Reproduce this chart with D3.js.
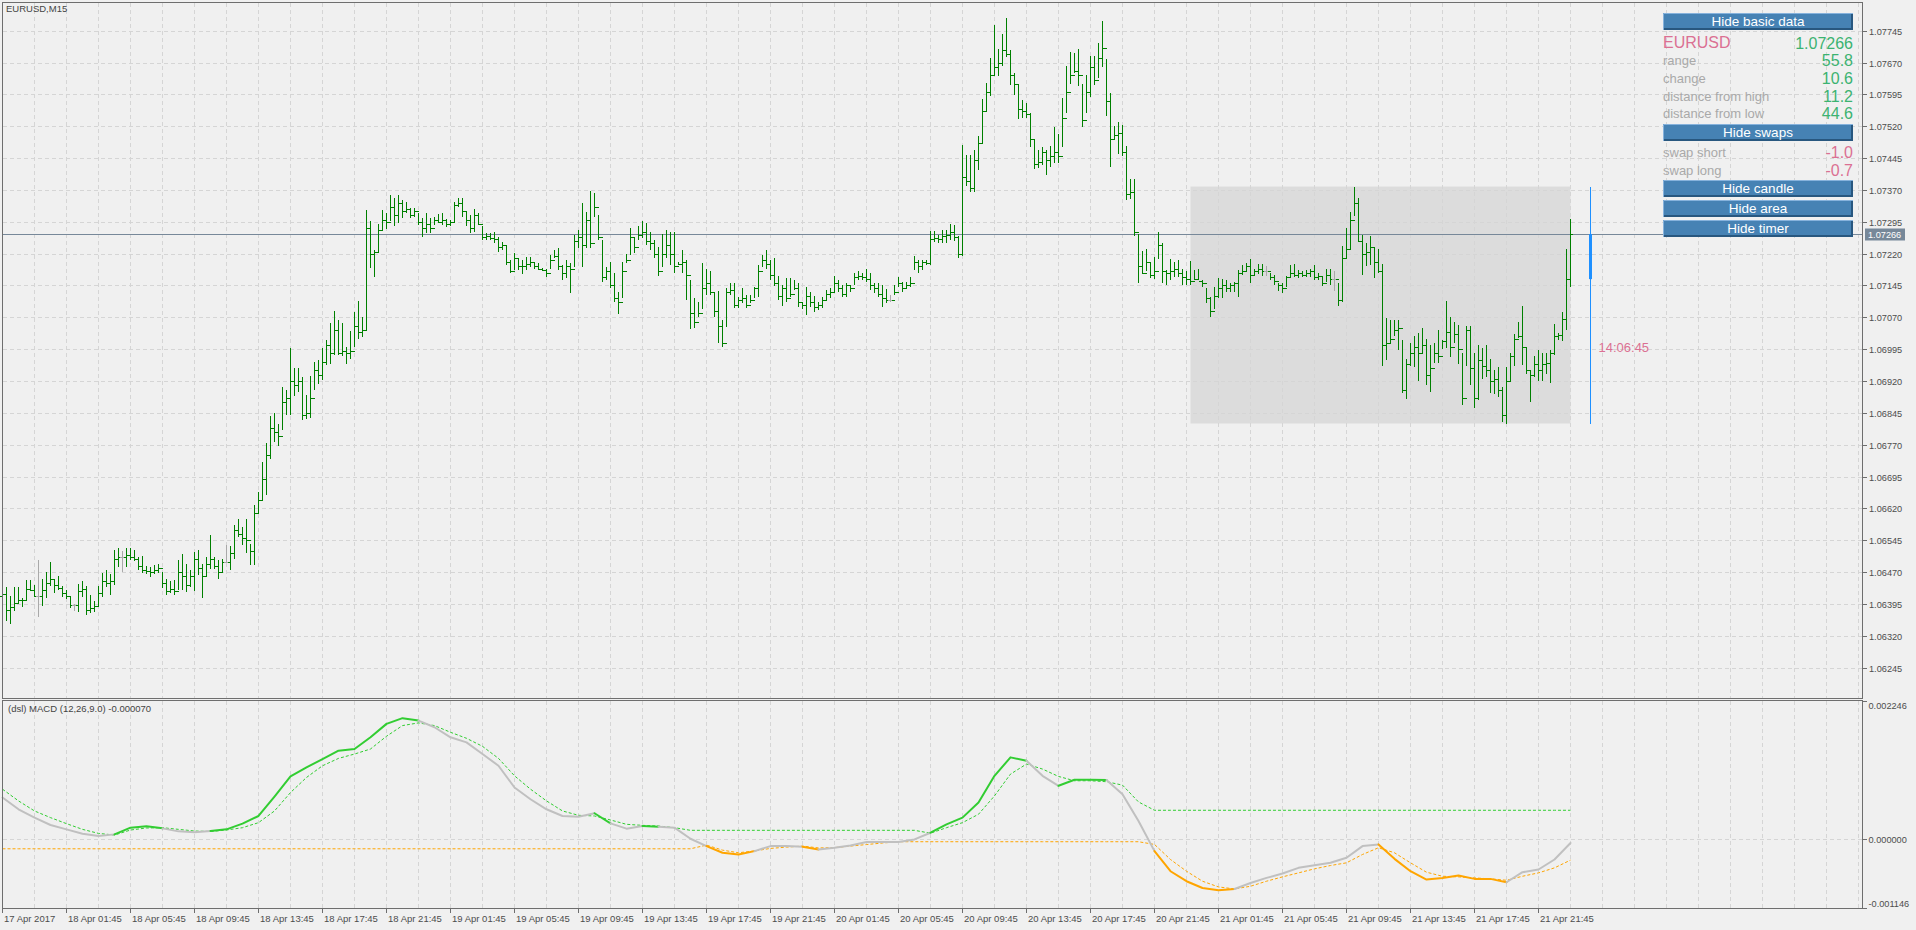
<!DOCTYPE html>
<html>
<head>
<meta charset="utf-8">
<title>EURUSD,M15</title>
<script src="https://cdn.jsdelivr.net/npm/d3@7"></script>
<style>
  body { margin: 0; background: #f0f0f0; }
  svg { display: block; font-family: "Liberation Sans", Arial, sans-serif; }
</style>
</head>
<body>
<svg id="chart" width="1916" height="930"></svg>
<script>
// ---- data ----
const symbol = "EURUSD";
const timeframe = "M15";
const firstOpen = 1.06415;

const barHigh = [
  1.06424,1.06435,1.06413,1.06434,1.06434,1.06410,1.06451,1.06451,1.06439,1.06498,
  1.06455,1.06471,1.06493,1.06453,1.06461,1.06437,1.06427,1.06413,1.06396,1.06443,
  1.06449,1.06437,1.06416,1.06402,1.06437,1.06467,1.06476,1.06465,1.06522,1.06526,
  1.06520,1.06526,1.06528,1.06523,1.06506,1.06508,1.06484,1.06483,1.06486,1.06489,
  1.06471,1.06453,1.06449,1.06451,1.06498,1.06512,1.06490,1.06475,1.06518,1.06522,
  1.06490,1.06506,1.06557,1.06506,1.06498,1.06502,1.06533,1.06531,1.06581,1.06596,
  1.06577,1.06594,1.06537,1.06628,1.06659,1.06730,1.06773,1.06838,1.06844,1.06820,
  1.06907,1.06899,1.06997,1.06950,1.06950,1.06930,1.06887,1.06932,1.06966,1.06969,
  1.06997,1.07017,1.07056,1.07085,1.07064,1.07057,1.07001,1.07038,1.07082,1.07108,
  1.07071,1.07323,1.07297,1.07228,1.07290,1.07323,1.07316,1.07358,1.07350,1.07358,
  1.07346,1.07342,1.07328,1.07328,1.07315,1.07303,1.07315,1.07303,1.07307,1.07313,
  1.07315,1.07301,1.07299,1.07342,1.07350,1.07350,1.07319,1.07311,1.07324,1.07315,
  1.07284,1.07269,1.07268,1.07272,1.07260,1.07248,1.07238,1.07205,1.07221,1.07207,
  1.07205,1.07211,1.07211,1.07201,1.07197,1.07187,1.07185,1.07217,1.07229,1.07234,
  1.07193,1.07205,1.07197,1.07264,1.07276,1.07339,1.07317,1.07368,1.07362,1.07311,
  1.07252,1.07189,1.07201,1.07174,1.07130,1.07201,1.07219,1.07281,1.07256,1.07284,
  1.07297,1.07291,1.07272,1.07252,1.07236,1.07266,1.07276,1.07272,1.07272,1.07201,
  1.07229,1.07205,1.07158,1.07115,1.07105,1.07199,1.07185,1.07178,1.07130,1.07133,
  1.07064,1.07138,1.07150,1.07150,1.07119,1.07138,1.07123,1.07123,1.07141,1.07193,
  1.07217,1.07229,1.07205,1.07209,1.07167,1.07146,1.07162,1.07163,1.07158,1.07150,
  1.07107,1.07141,1.07130,1.07120,1.07107,1.07119,1.07134,1.07138,1.07167,1.07158,
  1.07146,1.07150,1.07146,1.07174,1.07178,1.07174,1.07185,1.07174,1.07150,1.07150,
  1.07146,1.07136,1.07123,1.07146,1.07164,1.07154,1.07154,1.07164,1.07214,1.07205,
  1.07205,1.07205,1.07273,1.07273,1.07264,1.07276,1.07276,1.07290,1.07288,1.07262,
  1.07476,1.07453,1.07453,1.07464,1.07497,1.07584,1.07623,1.07680,1.07759,1.07701,
  1.07737,1.07776,1.07700,1.07645,1.07620,1.07582,1.07574,1.07551,1.07488,1.07463,
  1.07472,1.07464,1.07474,1.07519,1.07502,1.07586,1.07661,1.07694,1.07692,1.07701,
  1.07620,1.07641,1.07686,1.07686,1.07716,1.07767,1.07678,1.07598,1.07521,1.07529,
  1.07523,1.07474,1.07395,1.07395,1.07267,1.07227,1.07232,1.07201,1.07213,1.07272,
  1.07245,1.07182,1.07208,1.07200,1.07205,1.07185,1.07180,1.07203,1.07181,1.07183,
  1.07158,1.07138,1.07119,1.07141,1.07162,1.07160,1.07158,1.07150,1.07154,1.07181,
  1.07193,1.07199,1.07207,1.07185,1.07196,1.07196,1.07191,1.07174,1.07170,1.07150,
  1.07150,1.07167,1.07193,1.07196,1.07181,1.07178,1.07181,1.07183,1.07193,1.07175,
  1.07166,1.07183,1.07183,1.07178,1.07150,1.07238,1.07280,1.07319,1.07378,1.07350,
  1.07264,1.07244,1.07262,1.07236,1.07231,1.07195,1.07068,1.07064,1.07064,1.07064,
  1.07017,1.06971,1.07009,1.07027,1.07032,1.07044,1.07018,1.07005,1.07010,1.07040,
  1.07017,1.07108,1.07072,1.07060,1.07052,1.06987,1.07050,1.07050,1.06985,1.07005,
  1.06997,1.07005,1.06971,1.06946,1.06954,1.06905,1.06954,1.06985,1.07031,1.07060,
  1.07097,1.06997,1.06946,1.06979,1.06993,1.06985,1.06987,1.06993,1.07054,1.07032,
  1.07083,1.07230,1.07301
];

const barLow = [
  1.06402,1.06355,1.06349,1.06379,1.06395,1.06387,1.06402,1.06426,1.06412,1.06365,
  1.06390,1.06410,1.06437,1.06420,1.06427,1.06412,1.06407,1.06386,1.06379,1.06377,
  1.06412,1.06369,1.06374,1.06376,1.06388,1.06412,1.06435,1.06416,1.06439,1.06483,
  1.06471,1.06483,1.06498,1.06497,1.06476,1.06468,1.06465,1.06459,1.06465,1.06467,
  1.06432,1.06416,1.06421,1.06416,1.06429,1.06428,1.06424,1.06434,1.06426,1.06463,
  1.06410,1.06460,1.06478,1.06478,1.06455,1.06467,1.06492,1.06475,1.06502,1.06553,
  1.06533,1.06514,1.06486,1.06486,1.06610,1.06640,1.06651,1.06737,1.06777,1.06768,
  1.06805,1.06840,1.06840,1.06885,1.06895,1.06828,1.06830,1.06834,1.06899,1.06913,
  1.06922,1.06958,1.06960,1.06981,1.06981,1.06979,1.06960,1.06973,1.07001,1.07020,
  1.07024,1.07040,1.07187,1.07166,1.07224,1.07276,1.07279,1.07298,1.07285,1.07293,
  1.07303,1.07315,1.07303,1.07307,1.07287,1.07260,1.07268,1.07269,1.07287,1.07291,
  1.07287,1.07282,1.07284,1.07295,1.07331,1.07307,1.07284,1.07268,1.07272,1.07287,
  1.07252,1.07251,1.07252,1.07244,1.07225,1.07229,1.07193,1.07174,1.07182,1.07182,
  1.07172,1.07182,1.07189,1.07183,1.07182,1.07178,1.07166,1.07185,1.07209,1.07182,
  1.07158,1.07162,1.07127,1.07189,1.07233,1.07189,1.07233,1.07233,1.07307,1.07252,
  1.07154,1.07158,1.07138,1.07107,1.07078,1.07115,1.07197,1.07217,1.07221,1.07252,
  1.07256,1.07240,1.07229,1.07209,1.07167,1.07189,1.07209,1.07193,1.07174,1.07193,
  1.07174,1.07111,1.07042,1.07044,1.07072,1.07089,1.07123,1.07123,1.07072,1.07010,
  1.07000,1.07048,1.07123,1.07091,1.07091,1.07103,1.07091,1.07103,1.07115,1.07119,
  1.07189,1.07185,1.07158,1.07144,1.07111,1.07097,1.07107,1.07119,1.07134,1.07095,
  1.07089,1.07076,1.07095,1.07083,1.07087,1.07093,1.07111,1.07115,1.07127,1.07130,
  1.07119,1.07119,1.07130,1.07146,1.07158,1.07158,1.07154,1.07134,1.07128,1.07119,
  1.07095,1.07103,1.07107,1.07123,1.07142,1.07130,1.07138,1.07142,1.07182,1.07175,
  1.07182,1.07193,1.07193,1.07248,1.07246,1.07245,1.07246,1.07252,1.07250,1.07209,
  1.07215,1.07380,1.07366,1.07366,1.07416,1.07480,1.07554,1.07591,1.07639,1.07639,
  1.07661,1.07684,1.07617,1.07594,1.07537,1.07539,1.07539,1.07472,1.07420,1.07421,
  1.07429,1.07405,1.07425,1.07434,1.07433,1.07472,1.07552,1.07620,1.07645,1.07615,
  1.07518,1.07551,1.07588,1.07617,1.07633,1.07659,1.07543,1.07425,1.07488,1.07455,
  1.07449,1.07347,1.07348,1.07262,1.07150,1.07172,1.07178,1.07162,1.07160,1.07207,
  1.07152,1.07146,1.07158,1.07164,1.07164,1.07146,1.07146,1.07146,1.07158,1.07158,
  1.07142,1.07103,1.07070,1.07089,1.07115,1.07115,1.07130,1.07130,1.07130,1.07119,
  1.07170,1.07178,1.07150,1.07170,1.07172,1.07167,1.07167,1.07158,1.07146,1.07133,
  1.07128,1.07141,1.07162,1.07164,1.07162,1.07164,1.07164,1.07164,1.07158,1.07158,
  1.07144,1.07154,1.07146,1.07133,1.07097,1.07105,1.07207,1.07231,1.07309,1.07248,
  1.07170,1.07191,1.07193,1.07162,1.07175,1.06955,1.06970,1.07010,1.07025,1.06993,
  1.06891,1.06877,1.06955,1.06954,1.06919,1.06985,1.06911,1.06895,1.06963,1.06963,
  1.06995,1.06997,1.06977,1.07009,1.06960,1.06864,1.06955,1.06911,1.06857,1.06875,
  1.06926,1.06929,1.06891,1.06890,1.06883,1.06824,1.06820,1.06919,1.06955,1.07021,
  1.06958,1.06937,1.06871,1.06930,1.06919,1.06919,1.06937,1.06915,1.06981,1.07017,
  1.07015,1.07040,1.07141
];

const barClose = [
  1.06418,1.06380,1.06388,1.06398,1.06405,1.06404,1.06430,1.06428,1.06414,1.06414,
  1.06428,1.06445,1.06455,1.06440,1.06432,1.06420,1.06415,1.06392,1.06392,1.06425,
  1.06430,1.06380,1.06385,1.06390,1.06420,1.06450,1.06445,1.06450,1.06500,1.06505,
  1.06505,1.06510,1.06505,1.06500,1.06485,1.06475,1.06472,1.06470,1.06475,1.06480,
  1.06445,1.06425,1.06430,1.06425,1.06470,1.06460,1.06440,1.06460,1.06500,1.06480,
  1.06460,1.06490,1.06500,1.06485,1.06470,1.06495,1.06495,1.06515,1.06570,1.06560,
  1.06550,1.06545,1.06520,1.06610,1.06640,1.06690,1.06745,1.06810,1.06800,1.06790,
  1.06870,1.06880,1.06920,1.06910,1.06920,1.06840,1.06845,1.06880,1.06945,1.06935,
  1.06965,1.07005,1.06985,1.07040,1.06985,1.06990,1.06985,1.06990,1.07050,1.07035,
  1.07040,1.07280,1.07220,1.07225,1.07275,1.07300,1.07295,1.07330,1.07310,1.07340,
  1.07320,1.07325,1.07310,1.07320,1.07295,1.07280,1.07290,1.07280,1.07300,1.07295,
  1.07300,1.07290,1.07295,1.07335,1.07340,1.07320,1.07300,1.07280,1.07310,1.07290,
  1.07260,1.07262,1.07258,1.07255,1.07235,1.07240,1.07200,1.07180,1.07210,1.07190,
  1.07192,1.07195,1.07200,1.07190,1.07185,1.07182,1.07175,1.07205,1.07215,1.07190,
  1.07175,1.07190,1.07185,1.07250,1.07260,1.07240,1.07300,1.07245,1.07330,1.07260,
  1.07165,1.07180,1.07145,1.07115,1.07105,1.07180,1.07205,1.07260,1.07235,1.07265,
  1.07270,1.07250,1.07245,1.07220,1.07180,1.07220,1.07240,1.07220,1.07190,1.07195,
  1.07200,1.07170,1.07080,1.07060,1.07080,1.07140,1.07150,1.07130,1.07085,1.07050,
  1.07010,1.07130,1.07135,1.07100,1.07110,1.07115,1.07100,1.07110,1.07140,1.07180,
  1.07205,1.07195,1.07170,1.07150,1.07120,1.07140,1.07115,1.07125,1.07140,1.07105,
  1.07100,1.07120,1.07105,1.07095,1.07100,1.07110,1.07125,1.07130,1.07150,1.07140,
  1.07125,1.07145,1.07140,1.07165,1.07168,1.07165,1.07160,1.07145,1.07140,1.07125,
  1.07115,1.07110,1.07110,1.07130,1.07150,1.07140,1.07145,1.07150,1.07200,1.07190,
  1.07200,1.07198,1.07255,1.07258,1.07255,1.07262,1.07265,1.07270,1.07260,1.07220,
  1.07400,1.07390,1.07375,1.07440,1.07480,1.07555,1.07600,1.07640,1.07660,1.07670,
  1.07700,1.07690,1.07640,1.07620,1.07560,1.07555,1.07550,1.07490,1.07430,1.07435,
  1.07460,1.07440,1.07450,1.07460,1.07450,1.07540,1.07600,1.07640,1.07650,1.07640,
  1.07535,1.07600,1.07660,1.07630,1.07680,1.07705,1.07580,1.07490,1.07500,1.07505,
  1.07460,1.07360,1.07365,1.07270,1.07190,1.07175,1.07200,1.07170,1.07180,1.07240,
  1.07180,1.07175,1.07180,1.07185,1.07175,1.07165,1.07160,1.07155,1.07160,1.07155,
  1.07150,1.07115,1.07085,1.07120,1.07140,1.07145,1.07140,1.07145,1.07150,1.07175,
  1.07180,1.07190,1.07170,1.07180,1.07185,1.07180,1.07180,1.07165,1.07155,1.07145,
  1.07140,1.07165,1.07175,1.07170,1.07175,1.07170,1.07175,1.07178,1.07165,1.07168,
  1.07150,1.07170,1.07160,1.07160,1.07110,1.07210,1.07230,1.07300,1.07340,1.07250,
  1.07220,1.07225,1.07235,1.07200,1.07180,1.07005,1.07010,1.07020,1.07040,1.07045,
  1.06900,1.06960,1.06985,1.07000,1.06985,1.07005,1.06935,1.06950,1.06985,1.06980,
  1.07015,1.07035,1.07000,1.07030,1.06995,1.06880,1.07040,1.06950,1.06880,1.06970,
  1.06955,1.06945,1.06920,1.06925,1.06900,1.06840,1.06920,1.06980,1.07020,1.07025,
  1.07000,1.06945,1.06935,1.06960,1.06945,1.06960,1.06962,1.06985,1.07025,1.07028,
  1.07065,1.07160,1.07266
];

// MACD read every 4th bar
const macdStep = 4;
const macdMain = [
  0.000672,0.000480,0.000344,0.000224,0.000153,0.000082,0.000044,0.000071,0.000180,0.000202,
  0.000169,0.000120,0.000104,0.000126,0.000153,0.000246,0.000371,0.000688,0.001016,0.001163,
  0.001299,0.001436,0.001463,0.001654,0.001873,0.001966,0.001927,0.001818,0.001654,0.001572,
  0.001381,0.001190,0.000835,0.000644,0.000480,0.000371,0.000360,0.000415,0.000251,0.000164,
  0.000207,0.000197,0.000180,0.000000,-0.000120,-0.000229,-0.000257,-0.000202,-0.000120,-0.000120,
  -0.000131,-0.000175,-0.000147,-0.000109,-0.000055,-0.000055,-0.000055,-0.000011,0.000098,0.000235,
  0.000344,0.000590,0.001026,0.001327,0.001272,0.001026,0.000863,0.000961,0.000961,0.000956,
  0.000726,0.000289,-0.000202,-0.000530,-0.000693,-0.000803,-0.000841,-0.000819,-0.000721,-0.000639,
  -0.000568,-0.000475,-0.000431,-0.000393,-0.000311,-0.000120,-0.000093,-0.000328,-0.000530,-0.000666,
  -0.000639,-0.000601,-0.000655,-0.000655,-0.000710,-0.000546,-0.000502,-0.000339,-0.000070
];
const macdLevelUp = [
  0.000808,0.000617,0.000453,0.000344,0.000246,0.000153,0.000087,0.000060,0.000142,0.000175,
  0.000180,0.000153,0.000126,0.000118,0.000142,0.000180,0.000262,0.000453,0.000753,0.000999,
  0.001190,0.001310,0.001381,0.001463,0.001671,0.001845,0.001889,0.001845,0.001736,0.001638,
  0.001507,0.001310,0.001026,0.000808,0.000617,0.000453,0.000382,0.000371,0.000306,0.000235,
  0.000218,0.000207,0.000180,0.000137,0.000137,0.000137,0.000137,0.000137,0.000137,0.000137,
  0.000137,0.000137,0.000137,0.000137,0.000137,0.000137,0.000137,0.000137,0.000090,0.000180,
  0.000262,0.000399,0.000699,0.001054,0.001218,0.001136,0.001016,0.000945,0.000945,0.000930,
  0.000874,0.000600,0.000464,0.000464,0.000464,0.000464,0.000464,0.000464,0.000464,0.000464,
  0.000464,0.000464,0.000464,0.000464,0.000464,0.000464,0.000464,0.000464,0.000464,0.000464,
  0.000464,0.000464,0.000464,0.000464,0.000464,0.000464,0.000464,0.000464,0.000464
];
const macdLevelDown = [
  -0.000164,-0.000164,-0.000164,-0.000164,-0.000164,-0.000164,-0.000164,-0.000164,-0.000164,-0.000164,
  -0.000164,-0.000164,-0.000164,-0.000164,-0.000164,-0.000164,-0.000164,-0.000164,-0.000164,-0.000164,
  -0.000164,-0.000164,-0.000164,-0.000164,-0.000164,-0.000164,-0.000164,-0.000164,-0.000164,-0.000164,
  -0.000164,-0.000164,-0.000164,-0.000164,-0.000164,-0.000164,-0.000164,-0.000164,-0.000164,-0.000164,
  -0.000164,-0.000164,-0.000164,-0.000164,-0.000104,-0.000186,-0.000229,-0.000200,-0.000158,-0.000137,
  -0.000120,-0.000150,-0.000145,-0.000120,-0.000095,-0.000070,-0.000049,-0.000049,-0.000049,-0.000049,
  -0.000049,-0.000049,-0.000049,-0.000049,-0.000049,-0.000049,-0.000049,-0.000049,-0.000049,-0.000049,
  -0.000049,-0.000049,-0.000093,-0.000339,-0.000530,-0.000693,-0.000786,-0.000819,-0.000775,-0.000693,
  -0.000622,-0.000557,-0.000491,-0.000437,-0.000393,-0.000257,-0.000147,-0.000229,-0.000393,-0.000546,
  -0.000612,-0.000622,-0.000639,-0.000655,-0.000677,-0.000612,-0.000557,-0.000475,-0.000349
];
// 1 = above up level, -1 = below down level, 0 = between
const macdState = [
  0,0,0,0,0,0,0,1,1,1,
  0,0,0,1,1,1,1,1,1,1,
  1,1,1,1,1,1,0,0,0,0,
  0,0,0,0,0,0,0,1,0,0,
  1,0,0,0,-1,-1,-1,0,0,0,
  -1,0,0,0,0,0,0,0,1,1,
  1,1,1,1,0,0,1,1,1,0,
  0,0,-1,-1,-1,-1,-1,0,0,0,
  0,0,0,0,0,0,-1,-1,-1,-1,
  -1,-1,-1,-1,0,0,0,0,0
];
const macdParams = "(12,26,9.0)";

const priceTicks = [1.07745,1.07670,1.07595,1.07520,1.07445,1.07370,1.07295,1.07220,1.07145,1.07070,
  1.06995,1.06920,1.06845,1.06770,1.06695,1.06620,1.06545,1.06470,1.06395,1.06320,1.06245];
const macdTicks = [0.002246, 0.000000, -0.001146];
const timeLabels = ["17 Apr 2017","18 Apr 01:45","18 Apr 05:45","18 Apr 09:45","18 Apr 13:45","18 Apr 17:45",
  "18 Apr 21:45","19 Apr 01:45","19 Apr 05:45","19 Apr 09:45","19 Apr 13:45","19 Apr 17:45","19 Apr 21:45",
  "20 Apr 01:45","20 Apr 05:45","20 Apr 09:45","20 Apr 13:45","20 Apr 17:45","20 Apr 21:45","21 Apr 01:45",
  "21 Apr 05:45","21 Apr 09:45","21 Apr 13:45","21 Apr 17:45","21 Apr 21:45"];
const labelBarStep = 16;
const gridBarStep = 8;
const dayStartBar = 297;   // 21 Apr 00:00
const candleBar = 397;     // where the day candle is drawn
const timerText = "14:06:45";
const timerPrice = 1.07000;
const swapShort = -1.0;
const swapLong = -0.7;

// ---- layout ----
const plotL = 2, plotR = 1862, mainT = 2, mainB = 698, macdT = 700, macdB = 908;
const svg = d3.select("#chart");
const crisp = v => Math.round(v) + 0.5;

const lastBar = barClose.length - 1;
const x = d3.scaleLinear().domain([0, lastBar]).range([2.5, 2.5 + 4 * lastBar]);
const y = d3.scaleLinear().domain([1.06245, 1.07745]).range([667.7, 30.7]);
const ym = d3.scaleLinear().domain([-0.001146, 0.002246]).range([909, 701]);

const barOpen = barClose.map((c, i) => i === 0 ? firstOpen : barClose[i - 1]);
const lastClose = barClose[lastBar];
const dayHigh = d3.max(barHigh.slice(dayStartBar));
const dayLow = d3.min(barLow.slice(dayStartBar));
const dayOpen = barOpen[dayStartBar];

svg.append("rect").attr("width", 1916).attr("height", 930).attr("fill", "#f0f0f0");

// daily range area
svg.append("rect")
  .attr("x", x(dayStartBar)).attr("width", x(lastBar) - x(dayStartBar))
  .attr("y", y(dayHigh)).attr("height", y(dayLow) - y(dayHigh))
  .attr("fill", "#dcdcdc");

// grid
const grid = svg.append("g").attr("stroke", "#d5d5d5").attr("stroke-dasharray", "4,3")
  .attr("shape-rendering", "crispEdges");
for (let b = gridBarStep; x(b) < plotR; b += gridBarStep) {
  grid.append("line").attr("x1", x(b)).attr("x2", x(b)).attr("y1", mainT + 1).attr("y2", mainB);
  grid.append("line").attr("x1", x(b)).attr("x2", x(b)).attr("y1", macdT + 1).attr("y2", macdB);
}
priceTicks.forEach(p => {
  grid.append("line").attr("x1", plotL + 1).attr("x2", plotR).attr("y1", crisp(y(p))).attr("y2", crisp(y(p)));
});
grid.append("line").attr("x1", plotL + 1).attr("x2", plotR).attr("y1", crisp(ym(0))).attr("y2", crisp(ym(0)));

// current price line
svg.append("line").attr("x1", plotL).attr("x2", plotR).attr("y1", crisp(y(lastClose))).attr("y2", crisp(y(lastClose)))
  .attr("stroke", "#778899").attr("shape-rendering", "crispEdges");

// OHLC bars
const bars = svg.append("g").attr("fill", "none").attr("shape-rendering", "crispEdges");
barClose.forEach((c, i) => {
  const o = barOpen[i];
  const bx = x(i);
  bars.append("path")
    .attr("d", `M${bx},${y(barHigh[i])}V${y(barLow[i])}M${bx - 2.5},${crisp(y(o))}H${bx}M${bx},${crisp(y(c))}H${bx + 2.5}`)
    .attr("stroke", c === o ? "#a9a9a9" : "#008000");
});

// day candle + timer
const cx = x(candleBar);
svg.append("line").attr("x1", cx).attr("x2", cx).attr("y1", y(dayHigh)).attr("y2", y(dayLow))
  .attr("stroke", "#1e90ff").attr("shape-rendering", "crispEdges");
svg.append("rect").attr("x", cx - 1.5).attr("width", 3)
  .attr("y", y(Math.max(dayOpen, lastClose))).attr("height", Math.abs(y(dayOpen) - y(lastClose)))
  .attr("fill", "#1e90ff");
svg.append("text").attr("x", cx + 8).attr("y", y(timerPrice) + 4.5)
  .attr("font-size", 13).attr("fill", "#db7093").text(timerText);

// MACD
const mline = d3.line().x((d, j) => x(j * macdStep)).y(d => ym(d));
svg.append("path").attr("d", mline(macdLevelUp)).attr("fill", "none")
  .attr("stroke", "#32cd32").attr("stroke-dasharray", "3,2");
svg.append("path").attr("d", mline(macdLevelDown)).attr("fill", "none")
  .attr("stroke", "#ffa500").attr("stroke-dasharray", "3,2");
const stateColor = { "1": "#32cd32", "-1": "#ffa500", "0": "#c0c0c0" };
let seg = 0;
for (let j = 1; j < macdMain.length; j++) {
  if (j === macdMain.length - 1 || macdState[j] !== macdState[seg]) {
    const pts = d3.range(seg, j + 1).map(k => [x(k * macdStep), ym(macdMain[k])]);
    svg.append("path").attr("d", d3.line()(pts)).attr("fill", "none")
      .attr("stroke", stateColor[macdState[seg]]).attr("stroke-width", 2)
      .attr("stroke-linejoin", "round").attr("stroke-linecap", "round");
    seg = j;
  }
}

// frames
const frames = svg.append("g").attr("fill", "none").attr("stroke", "#6e6e6e").attr("shape-rendering", "crispEdges");
frames.append("rect").attr("x", plotL + 0.5).attr("y", mainT + 0.5).attr("width", plotR - plotL).attr("height", mainB - mainT - 0.5);
frames.append("rect").attr("x", plotL + 0.5).attr("y", macdT + 0.5).attr("width", plotR - plotL).attr("height", macdB - macdT);

// price axis
const axisCol = "#4d4d4d";
const pa = svg.append("g").attr("font-size", 9.2).attr("fill", axisCol);
priceTicks.forEach(p => {
  const ty = crisp(y(p));
  pa.append("line").attr("x1", plotR + 0.5).attr("x2", plotR + 5).attr("y1", ty).attr("y2", ty)
    .attr("stroke", "#6e6e6e").attr("shape-rendering", "crispEdges");
  pa.append("text").attr("x", plotR + 7).attr("y", ty + 3.3).text(p.toFixed(5));
});
const ly = crisp(y(lastClose));
svg.append("rect").attr("x", plotR + 3).attr("y", ly - 6).attr("width", 40).attr("height", 12).attr("fill", "#778899");
svg.append("text").attr("x", plotR + 6).attr("y", ly + 3.3).attr("font-size", 9.2).attr("fill", "#ffffff")
  .text(lastClose.toFixed(5));

// MACD axis
macdTicks.forEach((v, k) => {
  const ty = k === 0 ? macdT + 1.5 : (k === macdTicks.length - 1 ? macdB + 0.5 : crisp(ym(v)));
  const off = k === 0 ? 7.5 : (k === macdTicks.length - 1 ? -2 : 3.3);
  svg.append("line").attr("x1", plotR + 0.5).attr("x2", plotR + 5).attr("y1", ty).attr("y2", ty)
    .attr("stroke", "#6e6e6e").attr("shape-rendering", "crispEdges");
  svg.append("text").attr("x", plotR + 6.5).attr("y", ty + off).attr("font-size", 9.2).attr("fill", axisCol)
    .text(v.toFixed(6));
});

// time axis
const ta = svg.append("g").attr("font-size", 9.5).attr("fill", axisCol);
timeLabels.forEach((t, k) => {
  const bx = k === 0 ? plotL + 0.5 : x(k * labelBarStep);
  ta.append("line").attr("x1", bx).attr("x2", bx).attr("y1", macdB + 0.5).attr("y2", macdB + 5)
    .attr("stroke", "#6e6e6e").attr("shape-rendering", "crispEdges");
  ta.append("text").attr("x", bx + 1.5).attr("y", 922).text(t);
});

// titles
svg.append("text").attr("x", 6).attr("y", 12).attr("font-size", 9.5).attr("fill", "#444")
  .text(`${symbol},${timeframe}`);
svg.append("text").attr("x", 8).attr("y", 712).attr("font-size", 9.5).attr("fill", "#444")
  .text(`(dsl) MACD ${macdParams} ${macdMain[macdMain.length - 1].toFixed(6)}`);

// info panel
const pL = 1663, pR = 1853, pink = "#db7093", green = "#3cb371", grey = "#a9a9a9";
function button(label, top) {
  const g = svg.append("g");
  g.append("rect").attr("x", pL).attr("y", top).attr("width", pR - pL).attr("height", 17).attr("fill", "#4682b4");
  g.append("path").attr("d", `M${pL + 0.5},${top + 17}V${top + 0.5}H${pR}`).attr("stroke", "#86b2dc").attr("fill", "none");
  g.append("path").attr("d", `M${pL + 1},${top + 16}H${pR - 1}V${top + 1}`).attr("stroke", "#28577f").attr("stroke-width", 2).attr("fill", "none");
  g.append("text").attr("x", (pL + pR) / 2).attr("y", top + 13).attr("text-anchor", "middle")
    .attr("font-size", 13.5).attr("fill", "#ffffff").text(label);
}
function row(label, value, base, valColor, labSize, labColor) {
  svg.append("text").attr("x", pL).attr("y", base).attr("font-size", labSize).attr("fill", labColor).text(label);
  svg.append("text").attr("x", pR).attr("y", base + 1).attr("text-anchor", "end")
    .attr("font-size", 16).attr("fill", valColor).text(value);
}
const pips = v => (v * 10000).toFixed(1);
button("Hide basic data", 13);
row(symbol, lastClose.toFixed(5), 48, green, 16, pink);
row("range", pips(dayHigh - dayLow), 64.5, green, 13, grey);
row("change", pips(lastClose - dayOpen), 82.5, green, 13, grey);
row("distance from high", pips(dayHigh - lastClose), 100.5, green, 13, grey);
row("distance from low", pips(lastClose - dayLow), 118, green, 13, grey);
button("Hide swaps", 124);
row("swap short", swapShort.toFixed(1), 156.5, pink, 13, grey);
row("swap long", swapLong.toFixed(1), 174.5, pink, 13, grey);
button("Hide candle", 180);
button("Hide area", 200);
button("Hide timer", 220);
</script>
</body>
